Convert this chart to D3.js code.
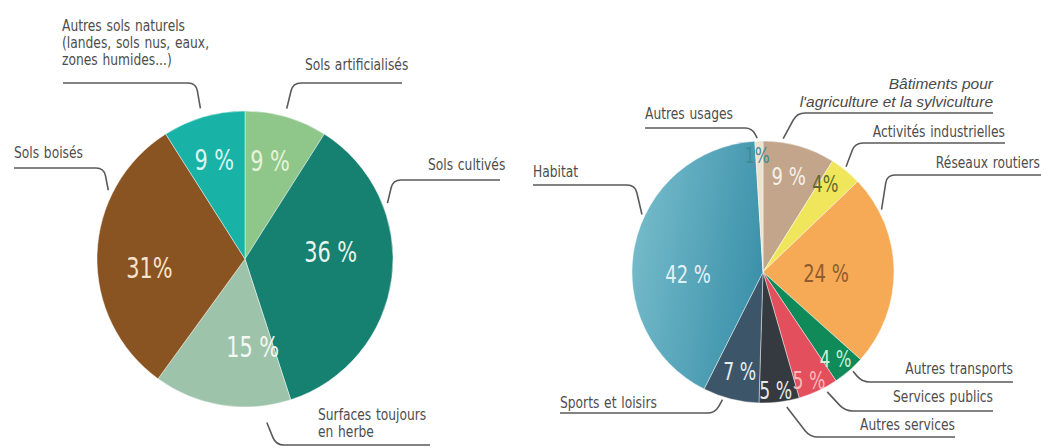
<!DOCTYPE html>
<html lang="fr">
<head>
<meta charset="utf-8">
<script src="https://cdn.jsdelivr.net/npm/d3@7"></script>
<style>
  html, body { margin: 0; padding: 0; background: #fff; }
  svg { display: block; }
  .lbl { font-family: "DejaVu Sans", "Liberation Sans", sans-serif; font-size: 15px; fill: #4d4d4d; word-spacing: 1px; }
  .lbl-it { font-family: "Liberation Sans", Arial, sans-serif; font-style: italic; font-size: 15.5px; fill: #4a4a4a; }
  .pct { font-family: "DejaVu Sans", sans-serif; }
  .leader { fill: none; stroke: #5a5a5a; stroke-width: 1.6; }
</style>
</head>
<body>
<svg id="chart" width="1041" height="448"></svg>
<script>
// Occupation des sols (gauche) et usages des sols artificialisés (droite)
const soilCategories = [
  ["Sols artificialisés"],
  ["Sols cultivés"],
  ["Surfaces toujours", "en herbe"],
  ["Sols boisés"],
  ["Autres sols naturels", "(landes, sols nus, eaux,", "zones humides...)"]
];
const soilValues = [9, 36, 15, 31, 9];
const soilColors = ["#8fc78b", "#168071", "#9dc4aa", "#8a5322", "#18b3a6"];

const useCategories = [
  ["Bâtiments pour", "l'agriculture et la sylviculture"],
  ["Activités industrielles"],
  ["Réseaux routiers"],
  ["Autres transports"],
  ["Services publics"],
  ["Autres services"],
  ["Sports et loisirs"],
  ["Habitat"],
  ["Autres usages"]
];
const useValues = [9, 4, 24, 4, 5, 5, 7, 42, 1];
const useColors = ["#c2a58a", "#efe65c", "#f7aa55", "#0f8a58", "#e34f5c", "#343a3f", "#3d5569", "url(#habitatGrad)", "#ebe3cf"];

// Percentage text layout: radius, angle nudge (deg), colour, size, spacing
const soilPctLayout = [
  { r: 102, nudge: -2, color: "#e6f3d8", size: 29, sp: true },
  { r: 86,  nudge: -12, color: "#e8f5f0", size: 29, sp: true },
  { r: 88,  nudge: -14, color: "#f4f8f4", size: 29, sp: true },
  { r: 96,  nudge: -7, color: "#f6e4cc", size: 29, sp: false },
  { r: 104, nudge: -1, color: "#dcf5f1", size: 29, sp: true }
];
const usePctLayout = [
  { r: 99,  nudge: -1, color: "#f6f0ea", size: 25, sp: true },
  { r: 108, nudge: -4, color: "#5d6a2c", size: 23, sp: false },
  { r: 63,  nudge: 2,  color: "#8d5c30", size: 25, sp: true },
  { r: 113, nudge: 1,  color: "#c8f0d8", size: 23, sp: true },
  { r: 118, nudge: 2,  color: "#f9b9bb", size: 24, sp: true },
  { r: 119, nudge: 1,  color: "#e8e8e8", size: 24, sp: true },
  { r: 102, nudge: -1, color: "#e8eef2", size: 24, sp: true },
  { r: 75,  nudge: -13, color: "#e2f1f6", size: 25, sp: true },
  { r: 117, nudge: -1, color: "#3f8a96", size: 22, sp: false }
];
const textSqueeze = 0.82;
const pctSqueeze = 0.72;

// Callout layout: anchor angle on the rim (deg), gap off the rim, elbow, underline end, text
const soilCallouts = [
  { ang: 15.5, gap: 8, corner: [293, 83], endX: 402, tx: 305, ty: 70, anchor: "start" },
  { ang: 68.6, gap: 5, corner: [393, 180], endX: 500, tx: 428, ty: 170, anchor: "start" },
  { ang: 172.4, gap: 17, corner: [276, 445], endX: 430, tx: 318, ty: 420, anchor: "start" },
  { ang: 296.7, gap: 5, corner: [104, 168], endX: 14, tx: 14, ty: 158, anchor: "start" },
  { ang: 343.5, gap: 9, corner: [196, 83], endX: 63, tx: 62, ty: 31, anchor: "start" }
];
const useCallouts = [
  { ang: 8.6, gap: 4, corner: [797, 113], endX: 993, tx: 993, ty: 89, anchor: "end", italic: true },
  { ang: 38.3, gap: 3, corner: [855, 143], endX: 1005, tx: 1005, ty: 137, anchor: "end" },
  { ang: 62.2, gap: 3, corner: [887, 175], endX: 1041, tx: 1040, ty: 168, anchor: "end" },
  { ang: 137.8, gap: 3, corner: [862, 382], endX: 1013, tx: 1013, ty: 374, anchor: "end" },
  { ang: 151.8, gap: 5, corner: [845, 411], endX: 993, tx: 993, ty: 402, anchor: "end" },
  { ang: 170, gap: 6, corner: [810, 437], endX: 955, tx: 955, ty: 430, anchor: "end" },
  { ang: 197.6, gap: 3, corner: [715, 413], endX: 560, tx: 560, ty: 408, anchor: "start" },
  { ang: 295.4, gap: 3, corner: [635, 185], endX: 533, tx: 533, ty: 177, anchor: "start" },
  { ang: 357.5, gap: 3, corner: [752, 128], endX: 645, tx: 645, ty: 119, anchor: "start" }
];

const svg = d3.select("#chart");

const defs = svg.append("defs");
const grad = defs.append("linearGradient")
  .attr("id", "habitatGrad")
  .attr("x1", "0%").attr("y1", "30%").attr("x2", "100%").attr("y2", "60%");
grad.append("stop").attr("offset", "0%").attr("stop-color", "#76bccb");
grad.append("stop").attr("offset", "100%").attr("stop-color", "#3a90a9");

const pie = d3.pie().sort(null).value(d => d);

function drawPie({ cx, cy, r, values, colors, pctLayout, callouts, categories }) {
  const g = svg.append("g").attr("transform", `translate(${cx},${cy})`);
  const arcs = pie(values);
  const arc = d3.arc().innerRadius(0).outerRadius(r);

  g.selectAll("path.slice")
    .data(arcs)
    .join("path")
    .attr("class", "slice")
    .attr("d", arc)
    .attr("fill", (d, i) => colors[i])
    .attr("stroke", "#ffffff")
    .attr("stroke-opacity", 0.55)
    .attr("stroke-width", 0.8);

  // percentage labels, narrow digits
  g.selectAll("text.pct")
    .data(arcs)
    .join("text")
    .attr("class", "pct")
    .each(function (d, i) {
      const L = pctLayout[i];
      const mid = (d.startAngle + d.endAngle) / 2 + L.nudge * Math.PI / 180;
      d3.select(this)
        .attr("transform", `translate(${L.r * Math.sin(mid)},${-L.r * Math.cos(mid)}) scale(${pctSqueeze},1)`)
        .attr("dy", "0.36em")
        .attr("text-anchor", "middle")
        .attr("font-size", L.size)
        .attr("fill", L.color)
        .text(d.data + (L.sp ? " %" : "%"));
    });

  // callouts with curved leaders
  callouts.forEach((C, i) => {
    const a = C.ang * Math.PI / 180;
    const A = [cx + (r + C.gap) * Math.sin(a), cy - (r + C.gap) * Math.cos(a)];
    const K = C.corner;
    const dir = Math.sign(C.endX - K[0]);
    const dx = K[0] - A[0], dy = K[1] - A[1];
    const len = Math.hypot(dx, dy);
    const k = Math.min(8, len * 0.6);
    const p = d3.path();
    p.moveTo(A[0], A[1]);
    p.lineTo(K[0] - dx / len * k, K[1] - dy / len * k);
    p.quadraticCurveTo(K[0], K[1], K[0] + dir * k, K[1]);
    p.lineTo(C.endX, K[1]);
    svg.append("path").attr("class", "leader").attr("d", p.toString());

    const sx = C.italic ? 1 : textSqueeze;
    const t = svg.append("text")
      .attr("class", C.italic ? "lbl-it" : "lbl")
      .attr("text-anchor", C.anchor)
      .attr("transform", `translate(${C.tx},${C.ty}) scale(${sx},1)`);
    categories[i].forEach((line, j) => {
      t.append("tspan")
        .attr("x", 0)
        .attr("y", j * (C.italic ? 18 : 17))
        .text(line);
    });
  });
}

drawPie({
  cx: 245, cy: 259, r: 148,
  values: soilValues, colors: soilColors,
  pctLayout: soilPctLayout, callouts: soilCallouts, categories: soilCategories
});

drawPie({
  cx: 763, cy: 272, r: 131,
  values: useValues, colors: useColors,
  pctLayout: usePctLayout, callouts: useCallouts, categories: useCategories
});
</script>
</body>
</html>
